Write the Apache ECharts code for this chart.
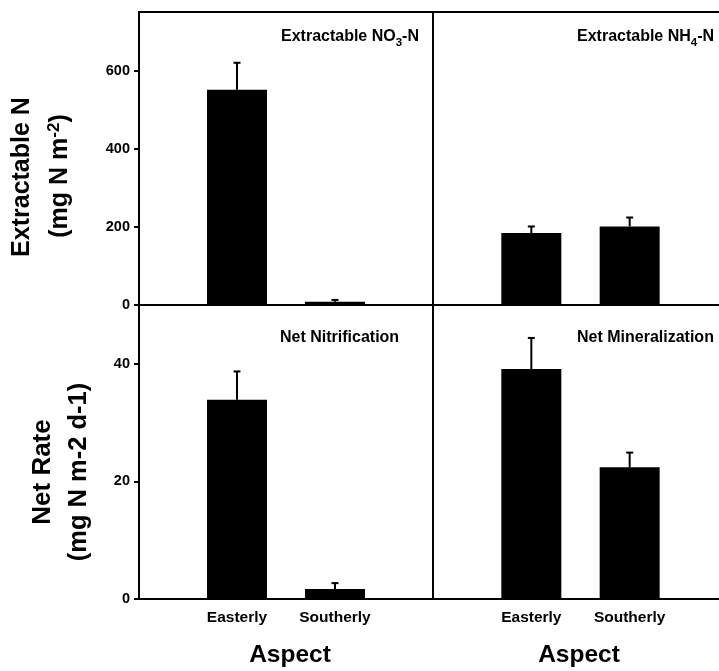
<!DOCTYPE html>
<html><head><meta charset="utf-8">
<script src="https://cdn.jsdelivr.net/npm/echarts@6/dist/echarts.min.js"></script>
<style>html,body{margin:0;padding:0;background:#fff}#c{width:719px;height:671px}</style>
</head><body><div id="c"></div>
<script>
// ---- data ----
const categories = ['Easterly', 'Southerly'];
const no3Mean = [551, 8];
const no3Err = [69, 5];
const nh4Mean = [184, 201];
const nh4Err = [17, 23];
const nitMean = [33.9, 1.7];
const nitErr = [4.8, 1.0];
const minMean = [39.1, 22.4];
const minErr = [5.3, 2.5];
const topTicks = [0, 200, 400, 600];
const bottomTicks = [0, 20, 40];
const topMax = 750;
const bottomMax = 50;
const xLabel = 'Aspect';

const FONT = '"Liberation Sans", Arial, Helvetica, sans-serif';
const chart = echarts.init(document.getElementById('c'), null, {renderer: 'canvas'});

const panels = [
  {mean: no3Mean, err: no3Err, max: topMax, ticks: topTicks, left: true, bottom: false},
  {mean: nh4Mean, err: nh4Err, max: topMax, ticks: topTicks, left: false, bottom: false},
  {mean: nitMean, err: nitErr, max: bottomMax, ticks: bottomTicks, left: true, bottom: true},
  {mean: minMean, err: minErr, max: bottomMax, ticks: bottomTicks, left: false, bottom: true}
];
const gridBoxes = [
  {left: 139, top: 12, width: 294, height: 293},
  {left: 433, top: 12, width: 295, height: 293},
  {left: 139, top: 305, width: 294, height: 294},
  {left: 433, top: 305, width: 295, height: 294}
];
const axisCats = [''].concat(categories, ['']);

const grid = gridBoxes.map(b => Object.assign({
  show: true, borderColor: '#000', borderWidth: 2, backgroundColor: 'transparent',
  containLabel: false, outerBoundsMode: 'none'
}, b));

const xAxis = panels.map((p, i) => ({
  gridIndex: i, type: 'category', data: axisCats, boundaryGap: false,
  axisLine: {show: true, lineStyle: {color: '#000', width: 2}},
  axisTick: {show: false}, splitLine: {show: false},
  axisLabel: {show: p.bottom, interval: 0, color: '#000', fontFamily: FONT,
    fontWeight: 'bold', fontSize: 15.5, margin: 11}
}));

const yAxis = panels.map((p, i) => ({
  gridIndex: i, type: 'value', min: 0, max: p.max,
  axisLine: {show: true, lineStyle: {color: '#000', width: 2}},
  axisTick: {show: p.left, inside: false, length: 5, lineStyle: {color: '#000', width: 2},
    customValues: p.ticks},
  axisLabel: {show: p.left, color: '#000', fontFamily: FONT, fontWeight: 'bold',
    fontSize: 14.5, margin: 9, customValues: p.ticks},
  splitLine: {show: false}
}));

function errRender(params, api) {
  const x = api.value(0), y = api.value(1), e = api.value(2);
  const p0 = api.coord([x, y]);
  const p1 = api.coord([x, y + e]);
  return {type: 'group', children: [
    {type: 'line', shape: {x1: p0[0], y1: p0[1], x2: p1[0], y2: p1[1]}, style: {stroke: '#000', lineWidth: 2}},
    {type: 'line', shape: {x1: p1[0] - 3.5, y1: p1[1], x2: p1[0] + 3.5, y2: p1[1]}, style: {stroke: '#000', lineWidth: 2}}
  ]};
}

const series = [];
panels.forEach((p, i) => {
  series.push({
    type: 'bar', xAxisIndex: i, yAxisIndex: i, barWidth: 60, silent: true,
    itemStyle: {color: '#000'},
    data: categories.map((c, j) => [c, p.mean[j]])
  });
  series.push({
    type: 'custom', xAxisIndex: i, yAxisIndex: i, silent: true, z: 3, clip: false,
    encode: {x: 0, y: 1},
    renderItem: errRender,
    data: categories.map((c, j) => [c, p.mean[j], p.err[j]])
  });
});

// ---- text helpers (measured runs for sub/superscripts) ----
const mctx = document.createElement('canvas').getContext('2d');
function runs(parts, size, small, shift) {
  let x = 0;
  const items = parts.map(pt => {
    const sz = pt.s ? small : size;
    const font = 'bold ' + sz + 'px ' + FONT;
    mctx.font = font;
    const w = mctx.measureText(pt.t).width;
    let dy = 0;
    if (pt.s === 'sub') dy = 0.32 * size + shift - 0.32 * sz;
    if (pt.s === 'sup') dy = 0.32 * size - shift - 0.32 * sz;
    const el = {type: 'text', x: x, y: dy, style: {text: pt.t, font: font, fill: '#000', align: 'left', verticalAlign: 'middle'}};
    x += w;
    return el;
  });
  return {items, width: x};
}
function label(parts, cx, cy, size, small, shift, opts) {
  const r = runs(parts, size, small, shift);
  const off = opts.center ? -r.width / 2 : 0;
  r.items.forEach(it => { it.x += off; });
  return {type: 'group', x: cx, y: cy, rotation: opts.rot || 0, silent: true, children: r.items};
}

const panelTitles = [
  [{t: 'Extractable NO'}, {t: '3', s: 'sub'}, {t: '-N'}],
  [{t: 'Extractable NH'}, {t: '4', s: 'sub'}, {t: '-N'}],
  [{t: 'Net Nitrification'}],
  [{t: 'Net Mineralization'}]
];
const titlePos = [[281, 37], [577, 37], [280, 338], [577, 338]];

const graphic = [];
panelTitles.forEach((pt, i) => {
  graphic.push(label(pt, titlePos[i][0], titlePos[i][1], 16, 11.5, 4, {}));
});
const R = Math.PI / 2;
graphic.push(label([{t: 'Extractable N'}], 22, 177, 25, 17, 0, {center: true, rot: R}));
graphic.push(label([{t: '(mg N m'}, {t: '-2', s: 'sup'}, {t: ')'}], 60, 176, 25, 17, 8, {center: true, rot: R}));
graphic.push(label([{t: 'Net Rate'}], 43, 472, 26, 17, 0, {center: true, rot: R}));
graphic.push(label([{t: '(mg N m-2 d-1)'}], 79, 472, 25.5, 17, 0, {center: true, rot: R}));
graphic.push(label([{t: xLabel}], 290, 655, 24.5, 17, 0, {center: true}));
graphic.push(label([{t: xLabel}], 579, 655, 24.5, 17, 0, {center: true}));

chart.setOption({
  animation: false,
  backgroundColor: '#fff',
  grid, xAxis, yAxis, series, graphic
});
</script></body></html>
